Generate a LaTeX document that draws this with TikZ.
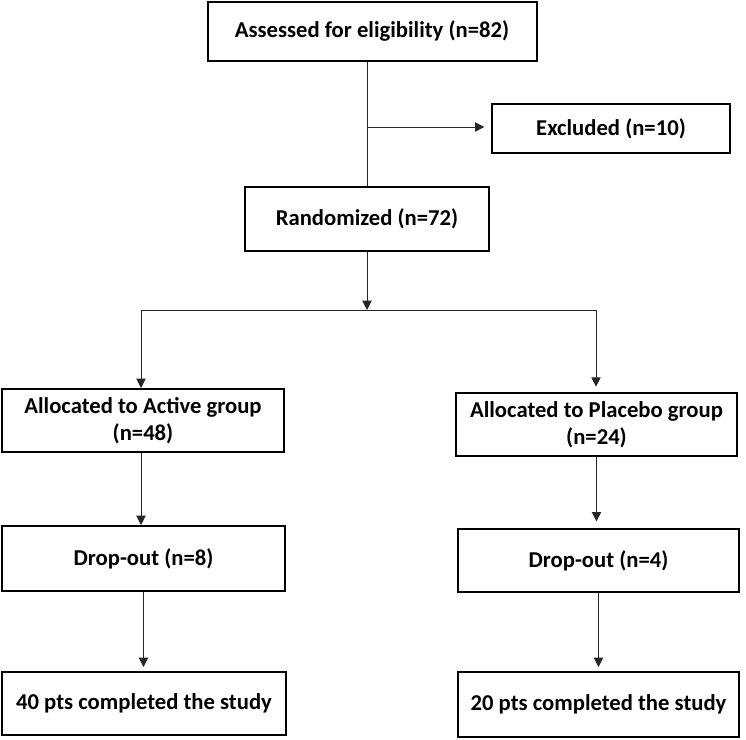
\documentclass[tikz,border=0pt]{standalone}
\usepackage{fontspec}
\setmainfont{Carlito}
\usetikzlibrary{arrows.meta}
\begin{document}
\begin{tikzpicture}[x=0.75pt,y=-0.75pt,
  box/.style={draw=black,line width=1.5pt,fill=white,align=center,
    font=\fontsize{17pt}{20pt}\selectfont\bfseries,inner sep=2pt},
  sz/.style 2 args={minimum width=#1*0.75pt,minimum height=#2*0.75pt},
  conn/.style={draw=black!85,line width=0.75pt},
  arr/.style={conn,-{Triangle[length=7pt,width=7pt]}}]
\useasboundingbox (0,0) rectangle (746,739);
\node[box,sz={329}{59}] (A) at (372,31.5) {Assessed for eligibility (n=82)};
\node[box,sz={238}{49}] (E) at (611,128.5) {Excluded (n=10)};
\node[box,sz={244}{64}] (R) at (367,219) {Randomized (n=72)};
\node[box,sz={282}{63}] (Act) at (143,420.5) {Allocated to Active group\\(n=48)};
\node[box,sz={281}{63}] (Pla) at (596.5,424.5) {Allocated to Placebo group\\(n=24)};
\node[box,sz={283}{65}] (D8) at (143.5,558.5) {Drop-out (n=8)};
\node[box,sz={281}{63}] (D4) at (598.5,560.5) {Drop-out (n=4)};
\node[box,sz={284}{63}] (C40) at (144,703.5) {40 pts completed the study};
\node[box,sz={281}{65}] (C20) at (598.5,704.5) {20 pts completed the study};
\coordinate (b1) at (367,127);
\coordinate (s) at (367,310);
\coordinate (sl) at (141,310);
\coordinate (sr) at (596,310);
\draw[conn] (R.north |- A.south) -- (R.north);
\draw[arr,shorten >=5pt] (b1) -- (E.west |- b1);
\draw[arr] (R.south) -- (s);
\draw[conn] (sl) -- (sr);
\draw[arr] (sl) -- (sl |- Act.north);
\draw[arr,shorten >=4pt] (sr) -- (sr |- Pla.north);
\draw[arr] (sl |- Act.south) -- (sl |- D8.north);
\draw[arr,shorten >=5pt] (Pla.south) -- (Pla.south |- D4.north);
\draw[arr,shorten >=3pt] (D8.south) -- (D8.south |- C40.north);
\draw[arr,shorten >=3pt] (D4.south) -- (D4.south |- C20.north);
\end{tikzpicture}
\end{document}
